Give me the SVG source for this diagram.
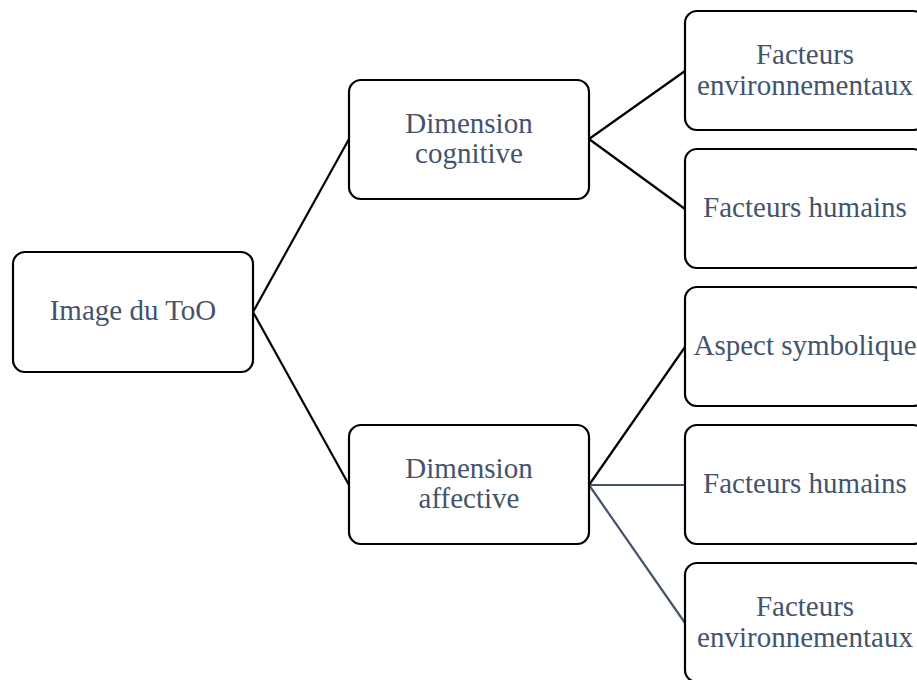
<svg xmlns="http://www.w3.org/2000/svg" width="917" height="680" viewBox="0 0 917 680">
<style>
.box{fill:#fff;stroke:#000;stroke-width:2.2}
.t{font-family:"Liberation Serif","Times New Roman",serif;font-size:29px;fill:#44546A;text-anchor:middle}
.c{stroke:#000;stroke-width:2.2;fill:none}
.c2{stroke:#44546A;stroke-width:2.2;fill:none}
</style>
<rect width="917" height="680" fill="#fff"/>
<g id="connectors">
<line class="c" x1="253" y1="312" x2="349" y2="139"/>
<line class="c" x1="253" y1="312" x2="349" y2="485"/>
<line class="c" x1="589" y1="139" x2="685" y2="71"/>
<line class="c" x1="589" y1="139" x2="685" y2="209"/>
<line class="c" x1="589" y1="485" x2="685" y2="347"/>
<line class="c2" x1="589" y1="485" x2="685" y2="485"/>
<line class="c2" x1="589" y1="485" x2="685" y2="623"/>
</g>
<g id="root">
<rect class="box" x="13" y="252" width="240" height="120" rx="12"/>
<text class="t" x="133" y="320">Image du ToO</text>
</g>
<g id="cognitive">
<rect class="box" x="349" y="80" width="240" height="119" rx="12"/>
<text class="t" x="469" y="133">Dimension</text>
<text class="t" x="469" y="163">cognitive</text>
</g>
<g id="affective">
<rect class="box" x="349" y="425" width="240" height="119" rx="12"/>
<text class="t" x="469" y="478">Dimension</text>
<text class="t" x="469" y="508">affective</text>
</g>
<g id="env1">
<rect class="box" x="685" y="11" width="240" height="119" rx="12"/>
<text class="t" x="805" y="64">Facteurs</text>
<text class="t" x="805" y="95">environnementaux</text>
</g>
<g id="hum1">
<rect class="box" x="685" y="149" width="240" height="119" rx="12"/>
<text class="t" x="805" y="217">Facteurs humains</text>
</g>
<g id="symb">
<rect class="box" x="685" y="287" width="240" height="119" rx="12"/>
<text class="t" x="805" y="355">Aspect symbolique</text>
</g>
<g id="hum2">
<rect class="box" x="685" y="425" width="240" height="119" rx="12"/>
<text class="t" x="805" y="493">Facteurs humains</text>
</g>
<g id="env2">
<rect class="box" x="685" y="563" width="240" height="119" rx="12"/>
<text class="t" x="805" y="616">Facteurs</text>
<text class="t" x="805" y="647">environnementaux</text>
</g>
</svg>
